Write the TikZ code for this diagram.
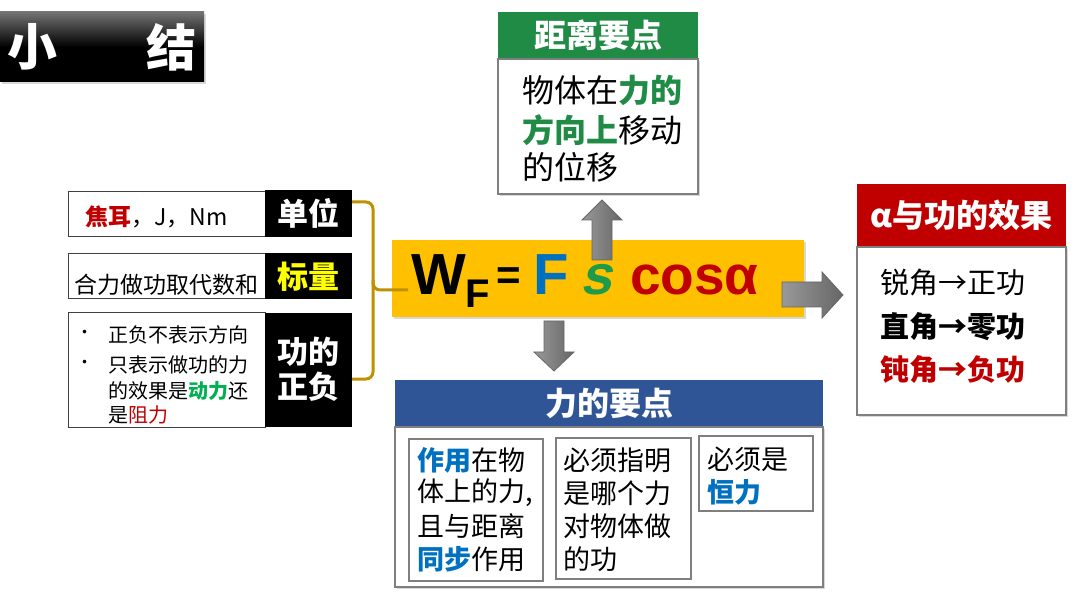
\documentclass[tikz,border=0pt]{standalone}
\usepackage{fontspec}
\setmainfont{Noto Sans CJK SC}
\newfontfamily\lib{Liberation Sans}
\newfontfamily\slfnt{Liberation Sans Bold}[FakeSlant=0.22]
\usetikzlibrary{shadows}
\definecolor{gold}{HTML}{BF9000}
\definecolor{wyellow}{HTML}{FFC000}
\definecolor{hgreen}{HTML}{1F8B45}
\definecolor{tgreen}{HTML}{1F8B45}
\definecolor{lgreen}{HTML}{00B050}
\definecolor{sgreen}{HTML}{1E9A4A}
\definecolor{hblue}{HTML}{2F5597}
\definecolor{tblue}{HTML}{0070C0}
\definecolor{hred}{HTML}{C00000}
\definecolor{bord}{HTML}{7F7F7F}
\definecolor{dbord}{HTML}{404040}
\definecolor{lyellow}{HTML}{FFFF00}
\newcommand\fsz[1]{\fontsize{#1}{#1}\selectfont}
\tikzset{
  box/.style={draw=bord, line width=1.2pt, fill=white, inner sep=0pt, outer sep=0pt, anchor=north west},
  lbox/.style={draw=dbord, line width=1pt, fill=white, inner sep=0pt, outer sep=0pt, anchor=north west},
  blk/.style={fill=black, inner sep=0pt, outer sep=0pt, anchor=north west},
  hdr/.style={inner sep=0pt, outer sep=0pt, anchor=north west, text=white, font=\fsz{32}\bfseries},
  shd/.style={drop shadow={shadow xshift=2pt, shadow yshift=-2pt, opacity=0.3}},
  txt/.style={inner sep=0pt, anchor=west},
  ftxt/.style={inner sep=0pt, anchor=base west},
  blockarrow/.style={draw=black!60, line width=0.8pt, left color=black!40, right color=black!60},
  bracket/.style={draw=gold, line width=3pt, rounded corners=7pt}
}
\begin{document}
\begin{tikzpicture}[x=1pt,y=-1pt]
\useasboundingbox (0,0) rectangle (1080,596);
\fill[white] (0,0) rectangle (1080,596);

% title
\node[blk, top color=black!55, bottom color=black, middle color=black, shd, minimum width=204pt, minimum height=70pt] (title) at (0,12) {};
\node[txt, text=white, font=\fsz{50}\bfseries, anchor=center] (t1) at (32,47) {小};
\node[txt, text=white, font=\fsz{50}\bfseries, anchor=center] (t2) at (171,47) {结};

% left boxes
\node[lbox, minimum width=197pt, minimum height=45pt] (w1) at (68,192) {};
\node[blk, minimum width=87pt, minimum height=47pt] (l1) at (265,190) {};
\node[lbox, minimum width=197pt, minimum height=45pt] (w2) at (68,254) {};
\node[blk, minimum width=87pt, minimum height=46pt] (l2) at (265,253) {};
\node[lbox, minimum width=197pt, minimum height=114pt] (w3) at (68,313) {};
\node[blk, minimum width=87pt, minimum height=114pt] (l3) at (265,313) {};

\node[txt, font=\fsz{23}] (w1t) at (85,217) {\textcolor{hred}{\bfseries 焦耳}，J，Nm};
\node[txt, font=\fsz{23}] (w2t) at (74,285) {合力做功取代数和};
\node[txt, font=\fsz{17}] (b1) at (76,334) {•};
\node[txt, font=\fsz{20}] (w3a) at (108,335) {正负不表示方向};
\node[txt, font=\fsz{17}] (b2) at (76,364) {•};
\node[txt, font=\fsz{20}] (w3b) at (108,365) {只表示做功的力};
\node[txt, font=\fsz{20}] (w3c) at (108,391) {的效果是\textcolor{lgreen}{\bfseries 动力}还};
\node[txt, font=\fsz{20}] (w3d) at (108,415) {是\textcolor{hred}{阻力}};

\node[font=\fsz{31}\bfseries, text=white, inner sep=0pt] (l1t) at (308,213) {单位};
\node[font=\fsz{31}\bfseries, text=lyellow, inner sep=0pt] (l2t) at (308,277) {标量};
\node[font=\fsz{31}\bfseries, text=white, inner sep=0pt] (l3t) at (308,352) {功的};
\node[font=\fsz{31}\bfseries, text=white, inner sep=0pt] (l3u) at (308,387) {正负};

% yellow formula box
\node[blk, fill=wyellow, shd, minimum width=412pt, minimum height=77pt] (wf) at (392,240) {};
\node[ftxt, font=\lib\fsz{58}\bfseries] (fw) at (411,295) {W};
\node[ftxt, font=\lib\fsz{40}\bfseries] (fsub) at (465,308) {F};
\node[ftxt, font=\lib\fsz{42}\bfseries] (feq) at (496,290) {=};
\node[ftxt, font=\lib\fsz{58}\bfseries, text=tblue] (ff) at (533,295) {F};
\node[ftxt, font=\slfnt\fsz{56}, text=sgreen] (fs) at (580,295) {s};
\node[ftxt, font=\lib\fsz{55}\bfseries, text=hred] (fc) at (630,295) {cosα};

% bracket
\draw[bracket] (l1.east |- 0,202) -- (373,202) -- (373,290) -- (408,290);
\draw[bracket] (373,280) -- (373,379) -- (l3.east |- 0,379);

% green box
\node[hdr, fill=hgreen, minimum width=200pt, minimum height=47pt] (gh) at (498,12) {};
\node[font=\fsz{32}\bfseries, text=white, inner sep=0pt] (ght) at (gh.center) {距离要点};
\node[box, shd, minimum width=200pt, minimum height=135pt] (gb) at (498,59) {};
\node[txt, font=\fsz{32}] (g1) at (522,90) {物体在\textcolor{tgreen}{\bfseries 力的}};
\node[txt, font=\fsz{32}] (g2) at (522,130) {\textcolor{tgreen}{\bfseries 方向上}移动};
\node[txt, font=\fsz{32}] (g3) at (522,167) {的位移};

% blue box
\node[hdr, fill=hblue, minimum width=428pt, minimum height=47pt] (bh) at (395,380) {};
\node[font=\fsz{32}\bfseries, text=white, inner sep=0pt] (bht) at (bh.center) {力的要点};
\node[box, shd, minimum width=428pt, minimum height=160pt] (bb) at (395,427) {};
\node[box, minimum width=134pt, minimum height=142pt] (ba) at (409,439) {};
\node[box, minimum width=135pt, minimum height=141pt] (bbx) at (556,438) {};
\node[box, minimum width=114pt, minimum height=75pt] (bc) at (699,436) {};
\node[txt, font=\fsz{27}] (a1) at (417,460) {\textcolor{tblue}{\bfseries 作用}在物};
\node[txt, font=\fsz{27}] (a2) at (417,493) {体上的力,};
\node[txt, font=\fsz{27}] (a3) at (417,526) {且与距离};
\node[txt, font=\fsz{27}] (a4) at (417,559) {\textcolor{tblue}{\bfseries 同步}作用};
\node[txt, font=\fsz{27}] (b1t) at (563,460) {必须指明};
\node[txt, font=\fsz{27}] (b2t) at (563,493) {是哪个力};
\node[txt, font=\fsz{27}] (b3t) at (563,526) {对物体做};
\node[txt, font=\fsz{27}] (b4t) at (563,559) {的功};
\node[txt, font=\fsz{27}] (c1t) at (707,459) {必须是};
\node[txt, font=\fsz{27}] (c2t) at (707,492) {\textcolor{tblue}{\bfseries 恒力}};

% red box
\node[hdr, fill=hred, minimum width=209pt, minimum height=63pt] (rh) at (857,184) {};
\node[font=\fsz{32}\bfseries, text=white, inner sep=0pt] (rht) at (rh.center) {α与功的效果};
\node[box, shd, minimum width=209pt, minimum height=168pt] (rb) at (857,247) {};
\node[txt, font=\fsz{29}] (r1) at (880,283) {锐角→正功};
\node[txt, font=\fsz{29}\bfseries] (r2) at (880,327) {直角→零功};
\node[txt, font=\fsz{29}\bfseries, text=hred] (r3) at (880,370) {钝角→负功};

% block arrows
\path[blockarrow] (592,260) -- (592,220) -- (582,220) -- (602,200) -- (622,220) -- (612,220) -- (612,260) -- cycle;
\path[blockarrow] (544,321) -- (544,352) -- (534,352) -- (554,371) -- (574,352) -- (564,352) -- (564,321) -- cycle;
\path[blockarrow] (782,282) -- (822,282) -- (822,272) -- (843,295) -- (822,318) -- (822,307) -- (782,307) -- cycle;
\end{tikzpicture}
\end{document}
